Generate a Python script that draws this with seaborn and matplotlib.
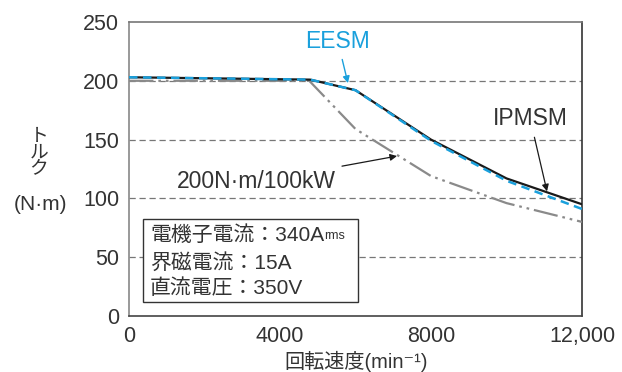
import matplotlib
matplotlib.use("Agg")
import matplotlib.pyplot as plt
import seaborn as sns
import pandas as pd
from matplotlib.patches import Rectangle

# Motor speed (min^-1) and torque (N·m) curves
speed = [0, 4800, 6000, 8000, 10000, 12000]
torque_ipmsm = [203, 201, 192, 150, 117, 95]
torque_eesm = [203, 201, 192, 149, 115, 91]
speed_limit = [0, 4775, 6000, 8000, 10000, 12000]
torque_limit = [200, 200, 159, 119, 96, 80]

x_ticks = [0, 4000, 8000, 12000]
x_tick_labels = ["0", "4000", "8000", "12,000"]
y_ticks = [0, 50, 100, 150, 200, 250]
y_tick_labels = ["0", "50", "100", "150", "200", "250"]

label_ipmsm = "IPMSM"
label_eesm = "EESM"
label_limit = "200N·m/100kW"
cond_lines = ["電機子電流：340A", "界磁電流：15A", "直流電圧：350V"]
cond_sub = "rms"
xlabel = "回転速度(min⁻¹)"
ylabel_top = "ト\nル\nク"
ylabel_unit = "(N·m)"

sns.set_style("white")
plt.rcParams["font.family"] = ["Liberation Sans", "Noto Sans CJK JP", "DejaVu Sans"]

TEXT = "#333333"
BLUE = "#1aa0dc"
GRAY = "#8a8a8a"

fig = plt.figure(figsize=(6.22, 3.72), dpi=100)
ax = fig.add_axes([129 / 622, 56 / 372, 453 / 622, 294 / 372])

df_limit = pd.DataFrame({"speed": speed_limit, "torque": torque_limit})
df_ipmsm = pd.DataFrame({"speed": speed, "torque": torque_ipmsm})
df_eesm = pd.DataFrame({"speed": speed, "torque": torque_eesm})

sns.lineplot(data=df_limit, x="speed", y="torque", ax=ax, color=GRAY,
             linewidth=1.6, zorder=3)
ax.lines[-1].set_dashes([11, 2.2, 1.2, 2.2, 1.2, 2.2])
sns.lineplot(data=df_ipmsm, x="speed", y="torque", ax=ax, color="#1a1a1a",
             linewidth=1.6, zorder=4)
sns.lineplot(data=df_eesm, x="speed", y="torque", ax=ax, color=BLUE,
             linewidth=1.8, zorder=5)
ax.lines[-1].set_dashes([3.4, 2.2])

ax.set_xlim(0, 12000)
ax.set_ylim(0, 250)
ax.set_xticks(x_ticks)
ax.set_xticklabels(x_tick_labels)
ax.set_yticks(y_ticks)
ax.set_yticklabels(y_tick_labels)
ax.tick_params(axis="x", direction="in", length=5, width=0.9, color="#444444",
               labelsize=15.5, labelcolor=TEXT, pad=7)
ax.tick_params(axis="y", length=0, labelsize=15.5, labelcolor=TEXT, pad=7)
ax.set_xlabel("")
ax.set_ylabel("")

# dashed horizontal grid
for yv in y_ticks[1:-1]:
    ax.axhline(yv, color="#777777", linewidth=0.9, dashes=(5, 3), zorder=1)

for side, col in [("left", "#888888"), ("top", "#777777"),
                  ("right", "#333333"), ("bottom", "#444444")]:
    ax.spines[side].set_visible(True)
    ax.spines[side].set_color(col)
    ax.spines[side].set_linewidth(1.2)

fig.text(356 / 622, 1 - 361 / 372, xlabel, ha="center", va="center",
         fontsize=14.5, color=TEXT)
fig.text(39 / 622, 1 - 153 / 372, ylabel_top, ha="center", va="center",
         fontsize=13.5, color=TEXT, linespacing=0.93)
fig.text(41 / 622, 1 - 205 / 372, ylabel_unit, ha="center", va="center",
         fontsize=15, color=TEXT)

# curve annotations
ax.annotate(label_eesm, xy=(5800, 198), xytext=(5536, 233),
            ha="center", va="center", fontsize=16.5, color=BLUE,
            arrowprops=dict(arrowstyle="-|>", color=BLUE, lw=1.0,
                            mutation_scale=10, shrinkA=2, shrinkB=0), zorder=6)
ax.annotate(label_ipmsm, xy=(11073, 106), xytext=(10623, 168),
            ha="center", va="center", fontsize=16.5, color=TEXT,
            arrowprops=dict(arrowstyle="-|>", color="#1a1a1a", lw=0.9,
                            mutation_scale=10, shrinkA=3, shrinkB=0), zorder=6)
ax.annotate(label_limit, xy=(7099, 136), xytext=(3364, 114),
            ha="center", va="center", fontsize=16.5, color=TEXT,
            arrowprops=dict(arrowstyle="-|>", color="#1a1a1a", lw=0.9,
                            mutation_scale=10, shrinkA=4, shrinkB=0), zorder=6)

# operating conditions box
ax.add_patch(Rectangle((363, 11.9), 6066 - 363, 82.5 - 11.9, facecolor="white",
                       edgecolor="#333333", linewidth=1.0, zorder=2))
line_y = [69, 45, 24]
texts = []
for s, yv in zip(cond_lines, line_y):
    texts.append(ax.text(556, yv, s, ha="left", va="center", fontsize=15,
                         color=TEXT, zorder=6))
ax.annotate(cond_sub, xy=(1, 0.14), xycoords=texts[0], ha="left", va="bottom",
            fontsize=9, color=TEXT, zorder=6)

fig.savefig("out.png", dpi=100, facecolor="white")
